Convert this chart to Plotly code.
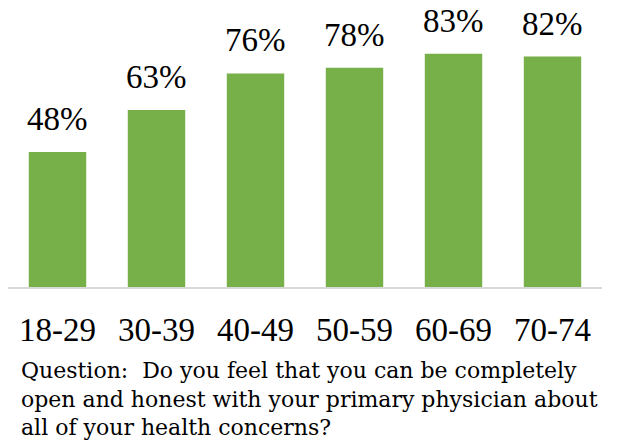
import plotly.graph_objects as go

# Share of respondents answering "yes", by age group
age_groups = ["18-29", "30-39", "40-49", "50-59", "60-69", "70-74"]
pct_yes = [48, 63, 76, 78, 83, 82]

question = ("Question:  Do you feel that you can be completely<br>"
            "open and honest with your primary physician about<br>"
            "all of your health concerns?")

FONT = "Liberation Serif"
CAPTION_FONT = "DejaVu Serif"
BAR_GREEN = "#77AF49"

# plot-area geometry in pixels
W, H = 626, 445
L, R, T, B = 8, 24, 6, 158
plot_w, plot_h = W - L - R, H - T - B
axis_y = H - B

fig = go.Figure(
    go.Bar(
        x=age_groups,
        y=pct_yes,
        marker=dict(color=BAR_GREEN, line=dict(width=0)),
        hoverinfo="skip",
    )
)

# value labels sitting above each bar
for g, v in zip(age_groups, pct_yes):
    fig.add_annotation(
        x=g, y=v, text=f"{v}%", showarrow=False,
        xref="x", yref="y", yanchor="bottom", yshift=13,
        font=dict(family=FONT, size=33, color="black"),
    )

# question caption beneath the axis
fig.add_annotation(
    x=(19 - L) / plot_w, y=-(356 - axis_y) / plot_h,
    xref="paper", yref="paper", text=question,
    showarrow=False, align="left", xanchor="left", yanchor="top",
    font=dict(family=CAPTION_FONT, size=22, color="black"),
)

fig.update_layout(
    width=W, height=H,
    margin=dict(l=L, r=R, t=T, b=B),
    paper_bgcolor="white", plot_bgcolor="white",
    bargap=0.42,
    showlegend=False,
    font=dict(family=FONT, color="black"),
)
fig.update_xaxes(
    showline=True, linecolor="#D9D9D9", linewidth=2,
    ticks="", tickfont=dict(family=FONT, size=33, color="black"),
    ticklabelstandoff=12, showgrid=False, zeroline=False,
)
fig.update_yaxes(range=[0, 100], visible=False, showgrid=False, zeroline=False)

fig.write_html("out.html")
